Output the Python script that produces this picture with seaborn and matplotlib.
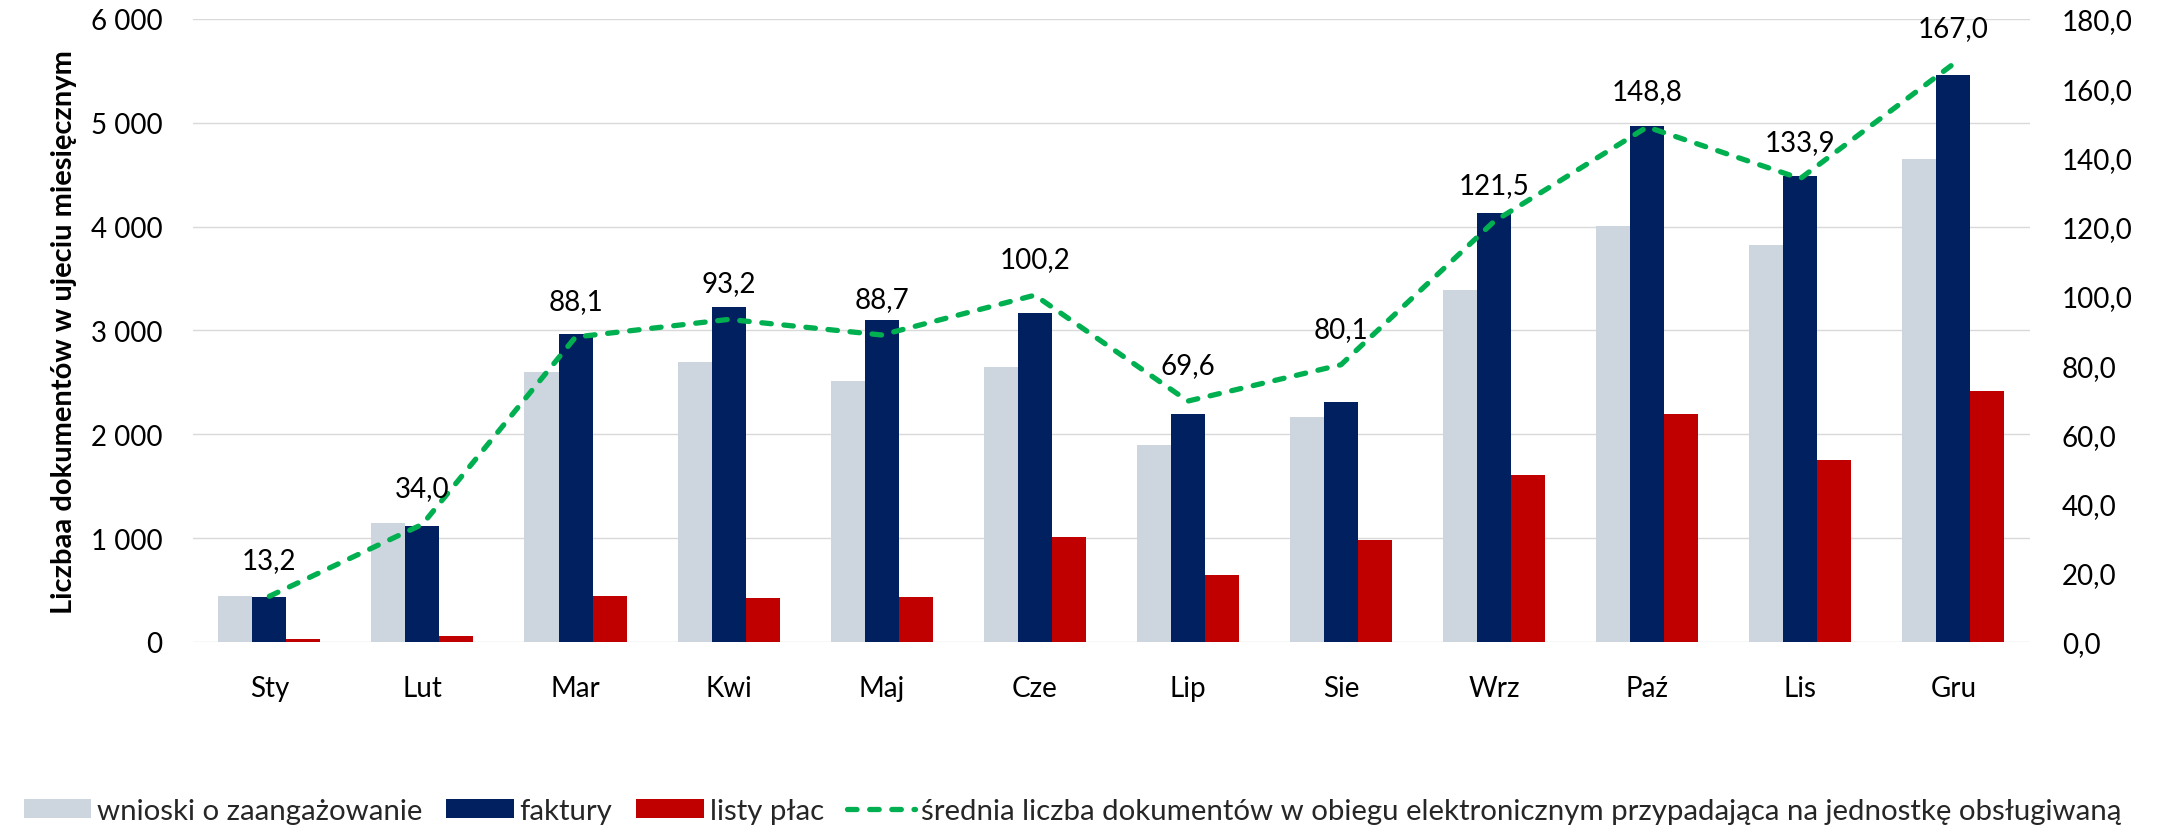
import numpy as np
import pandas as pd
import matplotlib
matplotlib.use("Agg")
import matplotlib.pyplot as plt
import seaborn as sns
from matplotlib.ticker import FuncFormatter, MultipleLocator

# dane
miesiace = ["Sty", "Lut", "Mar", "Kwi", "Maj", "Cze", "Lip", "Sie", "Wrz", "Paź", "Lis", "Gru"]
wnioski = [438, 1148, 2600, 2697, 2509, 2645, 1900, 2163, 3390, 4005, 3820, 4651]
faktury = [434, 1120, 2965, 3228, 3102, 3173, 2192, 2309, 4128, 4969, 4484, 5463]
listy_plac = [33, 54, 438, 422, 430, 1010, 647, 981, 1606, 2192, 1750, 2413]
srednia = [13.2, 34.0, 88.1, 93.2, 88.7, 100.2, 69.6, 80.1, 121.5, 148.8, 133.9, 167.0]

serie = ["wnioski o zaangażowanie", "faktury", "listy płac"]
kolory = ["#CDD5DF", "#002060", "#C00000"]
kolor_linii = "#00B050"
etykieta_linii = ("średnia liczba dokumentów w obiegu elektronicznym "
                  "przypadająca na jednostkę obsługiwaną")

df = pd.DataFrame({
    "miesiac": miesiace * 3,
    "seria": np.repeat(serie, len(miesiace)),
    "liczba": wnioski + faktury + listy_plac,
})
df_line = pd.DataFrame({"poz": np.arange(len(miesiace)), "srednia": srednia})

sns.set_theme(style="white")
plt.rcParams["font.family"] = ["Lato", "DejaVu Sans"]
FS = 20
FS_LEG = 21.2

fig = plt.figure(figsize=(21.59, 8.29), dpi=100)
ax = fig.add_axes([0.0893, 0.2244, 0.9402 - 0.0893, 0.9759 - 0.2244])

sns.barplot(data=df, x="miesiac", y="liczba", hue="seria", hue_order=serie,
            order=miesiace, palette=kolory, saturation=1, width=0.667,
            linewidth=0, errorbar=None, ax=ax)
bar_handles, bar_labels = ax.get_legend_handles_labels()
if ax.get_legend() is not None:
    ax.get_legend().remove()

ax.set_ylim(0, 6000)
ax.yaxis.set_major_locator(MultipleLocator(1000))
ax.yaxis.set_major_formatter(FuncFormatter(lambda v, p: f"{int(v):,}".replace(",", " ")))
ax.grid(axis="y", color="#D9D9D9", linewidth=1.0)
ax.set_axisbelow(True)
ax.set_xlim(-0.5, len(miesiace) - 0.5)
ax.set_xlabel("")
ax.set_ylabel("")
for s in ax.spines.values():
    s.set_visible(False)
ax.tick_params(axis="y", length=0, pad=22, labelsize=FS, colors="black")
ax.tick_params(axis="x", length=0, pad=24, labelsize=FS, colors="black")

ax2 = ax.twinx()
sns.lineplot(data=df_line, x="poz", y="srednia", ax=ax2, color=kolor_linii,
             linewidth=3.8, label=etykieta_linii, legend=False)
ln = ax2.lines[0]
ln.set_dashes((1.8, 2.4))
ln.set_dash_capstyle("round")
ax2.set_ylim(0, 180)
ax2.yaxis.set_major_locator(MultipleLocator(20))
ax2.yaxis.set_major_formatter(FuncFormatter(lambda v, p: f"{v:.1f}".replace(".", ",")))
ax2.set_ylabel("")
ax2.set_xlabel("")
for s in ax2.spines.values():
    s.set_visible(False)
ax2.tick_params(axis="y", length=0, pad=23, labelsize=FS, colors="black")
ax2.grid(False)
ax2.set_xlim(-0.5, len(miesiace) - 0.5)

for i, v in enumerate(srednia):
    ax2.annotate(f"{v:.1f}".replace(".", ","), (i, v), xytext=(0, 26),
                 textcoords="offset points", ha="center", va="center",
                 fontsize=FS, color="black")

fig.text(64 / 2159, 1 - 332 / 829, "Liczbaa dokumentów w ujeciu miesięcznym",
         rotation=90, ha="center", va="center", fontsize=21, fontweight="bold",
         color="black")

handles = bar_handles + [ln]
labels = bar_labels + [etykieta_linii]
fig.legend(handles, labels, loc="center", bbox_to_anchor=(0.4967, 1 - 812 / 829),
           ncol=4, frameon=False, fontsize=FS_LEG, handlelength=2.3, handleheight=0.62,
           handletextpad=0.2, columnspacing=0.8, borderaxespad=0)

fig.savefig("out.png", dpi=100)
